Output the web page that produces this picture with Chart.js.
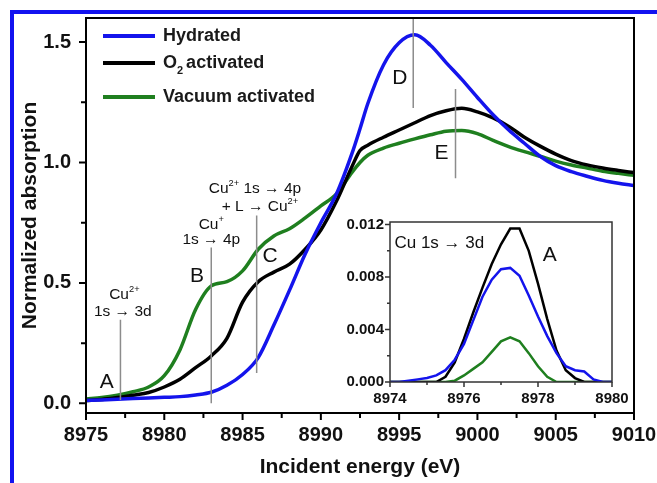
<!DOCTYPE html>
<html>
<head>
<meta charset="utf-8">
<script src="https://cdn.jsdelivr.net/npm/chart.js@4.4.0/dist/chart.umd.min.js"></script>
<style>
  html, body { margin: 0; padding: 0; background: #fff; }
  #wrap { position: relative; width: 657px; height: 483px; overflow: hidden; }
  #frame { position: absolute; left: 10px; top: 10px; width: 700px; height: 520px;
           border-left: 4px solid #1212f0; border-top: 4px solid #1212f0; }
  #main { position: absolute; left: 0; top: 0; }
  #inset { position: absolute; left: 340px; top: 212px; }
</style>
</head>
<body>
<div id="wrap">
  <div id="frame"></div>
  <canvas id="main" width="657" height="483"></canvas>
  <canvas id="inset" width="290" height="200"></canvas>
</div>
<script>
// main XANES spectra (eV, normalized absorption)
const energy = [8975, 8976, 8977, 8978, 8979, 8980, 8981, 8982, 8983, 8984, 8985, 8986, 8987, 8988, 8989, 8990, 8991, 8992, 8992.5,
                8993, 8994, 8995, 8996, 8997, 8998, 8999, 9000, 9001, 9002, 9003, 9004, 9005, 9006, 9007, 9008, 9009, 9010];
const hydrated = [0.012, 0.014, 0.017, 0.020, 0.022, 0.025, 0.028, 0.035, 0.046, 0.075, 0.12, 0.19, 0.325, 0.47, 0.62, 0.75, 0.87, 1.04, 1.14,
                  1.245, 1.405, 1.497, 1.53, 1.487, 1.415, 1.345, 1.27, 1.198, 1.135, 1.08, 1.026, 0.987, 0.962, 0.943, 0.926, 0.914, 0.905];
const o2Activated = [0.012, 0.016, 0.024, 0.034, 0.045, 0.068, 0.10, 0.148, 0.197, 0.27, 0.42, 0.505, 0.545, 0.578, 0.64, 0.72, 0.84, 0.985, 1.05,
                     1.072, 1.105, 1.135, 1.165, 1.195, 1.215, 1.225, 1.21, 1.185, 1.15, 1.105, 1.068, 1.035, 1.008, 0.99, 0.977, 0.967, 0.958];
const vacuumActivated = [0.018, 0.024, 0.034, 0.048, 0.068, 0.115, 0.222, 0.39, 0.488, 0.505, 0.55, 0.64, 0.695, 0.725, 0.77, 0.82, 0.87, 0.96, 1.0,
                         1.03, 1.06, 1.08, 1.098, 1.115, 1.13, 1.133, 1.12, 1.092, 1.066, 1.045, 1.026, 1.006, 0.99, 0.977, 0.964, 0.955, 0.947];
const seriesNames = ['Hydrated', 'O2 activated', 'Vacuum activated'];

const xTickValues = [8975, 8977.5, 8980, 8982.5, 8985, 8987.5, 8990, 8992.5, 8995, 8997.5, 9000, 9002.5, 9005, 9007.5, 9010];
const xTickLabels = ['8975', '', '8980', '', '8985', '', '8990', '', '8995', '', '9000', '', '9005', '', '9010'];
const yTickValues = [0, 0.25, 0.5, 0.75, 1.0, 1.25, 1.5];
const yTickLabels = ['0.0', '', '0.5', '', '1.0', '', '1.5'];

// inset: pre-edge 1s -> 3d peak
const insetEnergy = [8974, 8974.25, 8974.5, 8974.75, 8975, 8975.25, 8975.5, 8975.75, 8976, 8976.25, 8976.5, 8976.75, 8977,
                     8977.25, 8977.5, 8977.75, 8978, 8978.25, 8978.5, 8978.75, 8979, 8979.25, 8979.5, 8979.75, 8980];
const insetHydrated = [0, 0, 0.0001, 0.0002, 0.0003, 0.0005, 0.0009, 0.0017, 0.0029, 0.0047, 0.0065, 0.0078, 0.0086,
                       0.0087, 0.0081, 0.0066, 0.0050, 0.0035, 0.0022, 0.0012, 0.0009, 0.0008, 0.0002, 0, 0];
const insetO2 = [0, 0, 0, 0, 0, 0, 0.0004, 0.0015, 0.0033, 0.0053, 0.0072, 0.0090, 0.0105,
                 0.0117, 0.0117, 0.0100, 0.0075, 0.0048, 0.0024, 0.0009, 0.0003, 0, 0, 0, 0];
const insetVacuum = [0, 0, 0, 0, 0, 0, 0, 0.0001, 0.0005, 0.0010, 0.0015, 0.0023, 0.0031,
                     0.0034, 0.0031, 0.0022, 0.0012, 0.0004, 0, 0, 0, 0, 0, 0, 0];
const insetXTickValues = [8974, 8975, 8976, 8977, 8978, 8979, 8980];
const insetXTickLabels = ['8974', '', '8976', '', '8978', '', '8980'];
const insetYTickValues = [0, 0.002, 0.004, 0.006, 0.008, 0.010, 0.012];
const insetYTickLabels = ['0.000', '', '0.004', '', '0.008', '', '0.012'];

// feature markers A-E (energy, bottom, top) and their labels
const markerLines = [[8977.2, 0.014, 0.347], [8983.0, 0.001, 0.647], [8985.9, 0.126, 0.78], [8995.9, 1.226, 1.6], [8998.6, 0.935, 1.305]];
const markerLetters = [['A', 8976.32, 0.089], ['B', 8982.09, 0.526], ['C', 8986.75, 0.61], ['D', 8995.05, 1.351], ['E', 8997.7, 1.039]];
const transitionNotes = [
    [[['Cu'], ['2+', 'sup']], 8977.45, 0.451],
    [[['1s \u2192 3d']], 8977.35, 0.382],
    [[['Cu'], ['+', 'sup']], 8983.0, 0.743],
    [[['1s \u2192 4p']], 8983.0, 0.68],
    [[['Cu'], ['2+', 'sup'], [' 1s \u2192 4p']], 8985.79, 0.892],
    [[['+ L \u2192 Cu'], ['2+', 'sup']], 8986.11, 0.815]
];

const colors = ['#1414ec', '#000000', '#1f7f1f'];
const FONT = "'Liberation Sans', Arial, sans-serif";

function toPoints(xs, ys) {
    return xs.map((x, i) => ({ x: x, y: ys[i] }));
}

function drawRich(ctx, parts, cx, cy, size) {
    const widths = parts.map(p => {
        ctx.font = (p[1] ? size * 0.6 : size) + 'px ' + FONT;
        return ctx.measureText(p[0]).width;
    });
    let x = cx - widths.reduce((a, b) => a + b, 0) / 2;
    parts.forEach((p, i) => {
        ctx.font = (p[1] ? size * 0.6 : size) + 'px ' + FONT;
        let dy = 0;
        if (p[1] === 'sup') dy = -size * 0.35;
        if (p[1] === 'sub') dy = size * 0.35;
        ctx.fillText(p[0], x, cy + dy);
        x += widths[i];
    });
}

// keep the plot area exactly where the layout padding puts it
function noLabelPadding(s) {
    s.paddingLeft = 0;
    s.paddingRight = 0;
    s.paddingTop = 0;
    s.paddingBottom = 0;
}

// box around the plot area plus outward tick marks of two lengths
const frameTicks = {
    id: 'frameTicks',
    afterDraw(chart, args, opts) {
        const { ctx, chartArea: a } = chart;
        const xs = chart.scales.x, ys = chart.scales.y;
        ctx.save();
        ctx.strokeStyle = opts.color;
        ctx.lineWidth = opts.lineWidth;
        ctx.strokeRect(a.left, a.top, a.right - a.left, a.bottom - a.top);
        ctx.beginPath();
        xs.ticks.forEach((t, i) => {
            const px = xs.getPixelForValue(t.value);
            const len = opts.xLabels[i] ? opts.major : opts.minor;
            ctx.moveTo(px, a.bottom);
            ctx.lineTo(px, a.bottom + len);
        });
        ys.ticks.forEach((t, i) => {
            const py = ys.getPixelForValue(t.value);
            const len = opts.yLabels[i] ? opts.major : opts.minor;
            ctx.moveTo(a.left, py);
            ctx.lineTo(a.left - len, py);
        });
        ctx.stroke();
        ctx.restore();
    }
};

const mainAnnotations = {
    id: 'mainAnnotations',
    afterDatasetsDraw(chart) {
        const { ctx, chartArea: a } = chart;
        const xs = chart.scales.x, ys = chart.scales.y;
        ctx.save();
        ctx.strokeStyle = '#8c8c8c';
        ctx.lineWidth = 1.5;
        ctx.beginPath();
        markerLines.forEach(m => {
            const px = xs.getPixelForValue(m[0]);
            ctx.moveTo(px, ys.getPixelForValue(m[1]));
            ctx.lineTo(px, ys.getPixelForValue(m[2]));
        });
        ctx.stroke();

        ctx.fillStyle = '#111';
        ctx.textAlign = 'left';
        ctx.textBaseline = 'middle';
        markerLetters.forEach(m => {
            drawRich(ctx, [[m[0]]], xs.getPixelForValue(m[1]), ys.getPixelForValue(m[2]), 21);
        });
        transitionNotes.forEach(n => {
            drawRich(ctx, n[0], xs.getPixelForValue(n[1]), ys.getPixelForValue(n[2]), 15.5);
        });

        // legend
        const rows = [a.top + 18, a.top + 45, a.top + 79];
        rows.forEach((y, i) => {
            ctx.strokeStyle = colors[i];
            ctx.lineWidth = 4;
            ctx.beginPath();
            ctx.moveTo(a.left + 17, y);
            ctx.lineTo(a.left + 69, y);
            ctx.stroke();
            ctx.fillStyle = '#1a1a1a';
            ctx.font = 'bold 18px ' + FONT;
            let x = a.left + 77;
            if (seriesNames[i] === 'O2 activated') {
                ctx.fillText('O', x, y);
                x += ctx.measureText('O').width;
                ctx.font = 'bold 11px ' + FONT;
                ctx.fillText('2', x, y + 8);
                x += ctx.measureText('2').width + 3;
                ctx.font = 'bold 18px ' + FONT;
                ctx.fillText('activated', x, y);
            } else {
                ctx.fillText(seriesNames[i], x, y);
            }
        });
        ctx.restore();
    }
};

const insetAnnotations = {
    id: 'insetAnnotations',
    afterDatasetsDraw(chart) {
        const { ctx } = chart;
        const xs = chart.scales.x, ys = chart.scales.y;
        ctx.save();
        ctx.fillStyle = '#111';
        ctx.textBaseline = 'middle';
        ctx.textAlign = 'left';
        ctx.font = '17px ' + FONT;
        ctx.fillText('Cu 1s \u2192 3d', xs.getPixelForValue(8974.12), ys.getPixelForValue(0.01058));
        ctx.font = '21px ' + FONT;
        ctx.textAlign = 'center';
        ctx.fillText('A', xs.getPixelForValue(8978.32), ys.getPixelForValue(0.00966));
        ctx.restore();
    }
};

function lineSet(label, pts, color, width) {
    return {
        label: label,
        data: pts,
        borderColor: color,
        backgroundColor: color,
        borderWidth: width,
        pointRadius: 0,
        fill: false
    };
}

const mainChart = new Chart(document.getElementById('main').getContext('2d'), {
    type: 'line',
    data: {
        datasets: [
            lineSet(seriesNames[0], toPoints(energy, hydrated), colors[0], 3.5),
            lineSet(seriesNames[1], toPoints(energy, o2Activated), colors[1], 3.5),
            lineSet(seriesNames[2], toPoints(energy, vacuumActivated), colors[2], 3.5)
        ]
    },
    options: {
        responsive: false,
        animation: false,
        cubicInterpolationMode: 'monotone',
        layout: { padding: { left: 0, top: 18, right: 23, bottom: 0 } },
        plugins: {
            legend: { display: false },
            tooltip: { enabled: false },
            frameTicks: { color: '#000', lineWidth: 2, major: 7, minor: 5, xLabels: xTickLabels, yLabels: yTickLabels }
        },
        scales: {
            x: {
                type: 'linear',
                min: 8975,
                max: 9010,
                afterBuildTicks: s => { s.ticks = xTickValues.map(v => ({ value: v })); },
                afterFit: s => { s.height = 70; noLabelPadding(s); },
                grid: { display: false, drawTicks: false },
                border: { display: false },
                ticks: {
                    autoSkip: false,
                    maxRotation: 0,
                    padding: 10,
                    color: '#111',
                    font: { family: FONT, size: 20, weight: 'bold' },
                    callback: (v, i) => xTickLabels[i]
                },
                title: {
                    display: true,
                    text: 'Incident energy (eV)',
                    color: '#111',
                    padding: { top: 0, bottom: 3 },
                    font: { family: FONT, size: 21, weight: 'bold' }
                }
            },
            y: {
                min: -0.04,
                max: 1.6,
                afterBuildTicks: s => { s.ticks = yTickValues.map(v => ({ value: v })); },
                afterFit: s => { s.width = 86; noLabelPadding(s); },
                grid: { display: false, drawTicks: false },
                border: { display: false },
                ticks: {
                    autoSkip: false,
                    padding: 15,
                    color: '#111',
                    font: { family: FONT, size: 20, weight: 'bold' },
                    callback: (v, i) => yTickLabels[i]
                },
                title: {
                    display: true,
                    text: 'Normalized absorption',
                    color: '#111',
                    padding: { top: 18, bottom: 0 },
                    font: { family: FONT, size: 21, weight: 'bold' }
                }
            }
        }
    },
    plugins: [frameTicks, mainAnnotations]
});

const insetChart = new Chart(document.getElementById('inset').getContext('2d'), {
    type: 'line',
    data: {
        datasets: [
            lineSet(seriesNames[0], toPoints(insetEnergy, insetHydrated), colors[0], 2.5),
            lineSet(seriesNames[1], toPoints(insetEnergy, insetO2), colors[1], 2.5),
            lineSet(seriesNames[2], toPoints(insetEnergy, insetVacuum), colors[2], 2.5)
        ]
    },
    options: {
        responsive: false,
        animation: false,
        layout: { padding: { left: 0, top: 10, right: 18, bottom: 0 } },
        plugins: {
            legend: { display: false },
            tooltip: { enabled: false },
            frameTicks: { color: '#333', lineWidth: 1.5, major: 5, minor: 3, xLabels: insetXTickLabels, yLabels: insetYTickLabels }
        },
        scales: {
            x: {
                type: 'linear',
                min: 8974,
                max: 8980,
                afterBuildTicks: s => { s.ticks = insetXTickValues.map(v => ({ value: v })); },
                afterFit: s => { s.height = 30; noLabelPadding(s); },
                grid: { display: false, drawTicks: false },
                border: { display: false },
                ticks: {
                    autoSkip: false,
                    maxRotation: 0,
                    padding: 8,
                    color: '#111',
                    font: { family: FONT, size: 15, weight: 'bold' },
                    callback: (v, i) => insetXTickLabels[i]
                }
            },
            y: {
                min: 0,
                max: 0.0122,
                afterBuildTicks: s => { s.ticks = insetYTickValues.map(v => ({ value: v })); },
                afterFit: s => { s.width = 50; noLabelPadding(s); },
                grid: { display: false, drawTicks: false },
                border: { display: false },
                ticks: {
                    autoSkip: false,
                    padding: 6,
                    color: '#111',
                    font: { family: FONT, size: 15, weight: 'bold' },
                    callback: (v, i) => insetYTickLabels[i]
                }
            }
        }
    },
    plugins: [frameTicks, insetAnnotations]
});
</script>
</body>
</html>
